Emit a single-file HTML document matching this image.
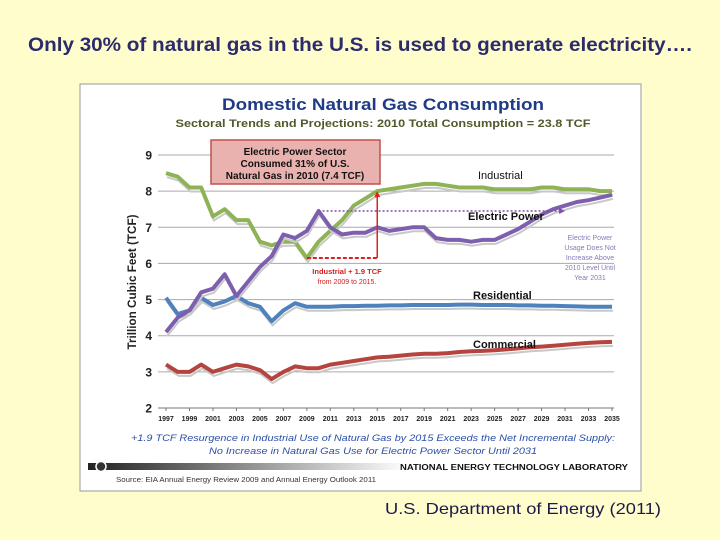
<!DOCTYPE html>
<html><head><meta charset="utf-8"><style>
html,body{margin:0;padding:0;background:#fffdcc;}
svg{display:block;}
text{font-family:"Liberation Sans",sans-serif;}
</style></head><body>
<svg id="slide" width="720" height="540" viewBox="0 0 720 540" xmlns="http://www.w3.org/2000/svg">
<rect width="720" height="540" fill="#fffdcc"/>
<text x="360" y="51" text-anchor="middle" font-size="19" font-weight="bold" fill="#2c2c6c" textLength="664" lengthAdjust="spacingAndGlyphs">Only 30% of natural gas in the U.S. is used to generate electricity….</text>
<rect x="80" y="84" width="561" height="407" fill="#ffffff" stroke="#9a9a9a" stroke-width="1"/>
<text x="383" y="110" text-anchor="middle" font-size="17" font-weight="bold" fill="#1f3b87" textLength="322" lengthAdjust="spacingAndGlyphs">Domestic Natural Gas Consumption</text>
<text x="383" y="127" text-anchor="middle" font-size="11" font-weight="bold" fill="#4f5b2a" textLength="415" lengthAdjust="spacingAndGlyphs">Sectoral Trends and Projections: 2010 Total Consumption = 23.8 TCF</text>
<text transform="translate(136,282) rotate(-90)" text-anchor="middle" font-size="12" font-weight="bold" fill="#222" textLength="135" lengthAdjust="spacingAndGlyphs">Trillion Cubic Feet (TCF)</text>
<g id="grid"></g>
<g id="yticks"></g>
<g id="xticks"></g>
<g id="series"></g>
<g id="annot"></g>
<text x="373" y="441" text-anchor="middle" font-size="9.5" font-style="italic" fill="#2b4fa8" textLength="484" lengthAdjust="spacingAndGlyphs">+1.9 TCF Resurgence in Industrial Use of Natural Gas by 2015 Exceeds the Net Incremental Supply:</text>
<text x="373" y="454" text-anchor="middle" font-size="9.5" font-style="italic" fill="#2b4fa8" textLength="328" lengthAdjust="spacingAndGlyphs">No Increase in Natural Gas Use for Electric Power Sector Until 2031</text>
<defs><linearGradient id="band" x1="0" x2="1"><stop offset="0" stop-color="#222"/><stop offset="1" stop-color="#fff"/></linearGradient></defs>
<rect x="88" y="463" width="320" height="7" fill="url(#band)"/>
<circle cx="101" cy="466.5" r="5" fill="#333" stroke="#fff" stroke-width="1.5"/>
<text x="628" y="470" text-anchor="end" font-size="8" font-weight="bold" fill="#111" textLength="228" lengthAdjust="spacingAndGlyphs">NATIONAL ENERGY TECHNOLOGY LABORATORY</text>
<text x="116" y="482" font-size="7" fill="#333" textLength="260" lengthAdjust="spacingAndGlyphs">Source: EIA Annual Energy Review 2009 and Annual Energy Outlook 2011</text>
<text x="523" y="514" text-anchor="middle" font-size="16" fill="#1a1a4a" textLength="276" lengthAdjust="spacingAndGlyphs">U.S. Department of Energy (2011)</text>
</svg>
<script>
const years = [];for(let y=1997;y<=2035;y++)years.push(y);
const yTicks = [2,3,4,5,6,7,8,9];
const xTickLabels = ["1997","1999","2001","2003","2005","2007","2009","2011","2013","2015","2017","2019","2021","2023","2025","2027","2029","2031","2033","2035"];
const industrial = [8.5,8.4,8.1,8.1,7.3,7.5,7.2,7.2,6.6,6.5,6.6,6.6,6.15,6.6,6.9,7.2,7.6,7.8,8.0,8.05,8.1,8.15,8.2,8.2,8.15,8.1,8.1,8.1,8.05,8.05,8.05,8.05,8.1,8.1,8.05,8.05,8.05,8.0,8.0];
const electric = [4.1,4.5,4.7,5.2,5.3,5.7,5.1,5.5,5.9,6.2,6.8,6.7,6.9,7.45,7.0,6.8,6.85,6.85,7.0,6.9,6.95,7.0,7.0,6.7,6.65,6.65,6.6,6.65,6.65,6.8,6.95,7.15,7.35,7.5,7.6,7.7,7.75,7.82,7.9];
const residential = [5.05,4.6,4.7,5.05,4.85,4.95,5.1,4.9,4.8,4.4,4.7,4.9,4.8,4.8,4.8,4.82,4.82,4.83,4.83,4.84,4.84,4.85,4.85,4.85,4.85,4.86,4.86,4.85,4.85,4.85,4.84,4.84,4.83,4.83,4.82,4.81,4.8,4.8,4.8];
const commercial = [3.2,3.0,3.0,3.2,3.0,3.1,3.2,3.15,3.05,2.8,3.0,3.15,3.1,3.1,3.2,3.25,3.3,3.35,3.4,3.42,3.45,3.48,3.5,3.5,3.52,3.55,3.57,3.58,3.6,3.62,3.65,3.68,3.7,3.72,3.75,3.78,3.8,3.82,3.83];

const NS="http://www.w3.org/2000/svg";
const X0=166,X1=612,Y9=155,Y2=408;
const xs=i=>X0+(X1-X0)*i/(years.length-1);
const xy=yr=>xs(yr-1997);
const ys=v=>Y2-(Y2-Y9)*(v-2)/7;
function mk(tag,attrs,parent){const e=document.createElementNS(NS,tag);for(const k in attrs)e.setAttribute(k,attrs[k]);parent.appendChild(e);return e;}
const grid=document.getElementById('grid'),yt=document.getElementById('yticks'),xt=document.getElementById('xticks'),ser=document.getElementById('series'),an=document.getElementById('annot');
yTicks.forEach(v=>{
  const l=mk('line',{x1:158,x2:614,y1:ys(v),y2:ys(v),stroke:v===2?'#777':'#aaa','stroke-width':1},grid);
  
  
  const t=mk('text',{x:152,y:ys(v)+4.5,'text-anchor':'end','font-size':12,'font-weight':'bold',fill:'#222'},yt);
  t.textContent=v;
  
  
});
xTickLabels.forEach(s=>{
  const x=xy(+s);
  const tk=mk('line',{x1:x,x2:x,y1:408,y2:411,stroke:'#777'},xt);
  
  
  const t=mk('text',{x:x,y:421,'text-anchor':'middle','font-size':7,'font-weight':'bold',fill:'#222'},xt);
  t.textContent=s;
  
  
});
function series(vals,color,name){
  const d=vals.map((v,i)=>(i?'L':'M')+xs(i).toFixed(1)+','+ys(v).toFixed(1)).join(' ');
  const sh=mk('path',{d:d,fill:'none',stroke:'#c8c8c8','stroke-width':2,transform:'translate(1,4)'},ser);
  
  
  const p=mk('path',{d:d,fill:'none',stroke:color,'stroke-width':4,'stroke-linejoin':'round'},ser);
  
  
}
series(commercial,'#b5443f','commercial');
series(residential,'#4f81bd','residential');
series(industrial,'#8db356','industrial');
series(electric,'#7e5fae','electric-power');
function lab(txt,x,y,size,color,name,extra){const t=mk('text',Object.assign({x:x,y:y,'font-size':size,fill:color},extra||{}),an);t.textContent=txt;return t;}
lab('Industrial',478,179,11,'#111','industrial-label');
lab('Electric Power',468,220,11,'#111','electric-power-label',{'font-weight':'bold'});
lab('Residential',473,299,11,'#111','residential-label',{'font-weight':'bold'});
lab('Commercial',473,348,11,'#111','commercial-label',{'font-weight':'bold'});
const peak=electric[13];
const dl=mk('line',{x1:xy(2010),x2:xy(2031)-4,y1:ys(peak),y2:ys(peak),stroke:'#7e4fb0','stroke-width':1.5,'stroke-dasharray':'2,2'},an);


const ah=mk('path',{d:`M${xy(2031)},${ys(peak)} l-6,-3 v6 z`,fill:'#7e4fb0'},an);


const rd=mk('line',{x1:xy(2009),x2:xy(2015),y1:ys(industrial[12]),y2:ys(industrial[12]),stroke:'#e02020','stroke-width':2,'stroke-dasharray':'4,2'},an);


const ra=mk('line',{x1:xy(2015),x2:xy(2015),y1:ys(industrial[12]),y2:ys(industrial[18])+4,stroke:'#e02020','stroke-width':1.5},an);


const rh=mk('path',{d:`M${xy(2015)},${ys(industrial[18])} l-3,6 h6 z`,fill:'#e02020'},an);


lab('Industrial + 1.9 TCF',347,274,7.5,'#d02020','industrial-increase-label',{'text-anchor':'middle','font-weight':'bold'});
lab('from 2009 to 2015.',347,284,7,'#d02020','industrial-increase-sublabel',{'text-anchor':'middle'});
const bx=mk('rect',{x:211,y:140,width:169,height:44,fill:'#eab2ae',stroke:'#c0504d','stroke-width':1.5},an);


lab('Electric Power Sector',295,155,10,'#111','callout-line1',{'text-anchor':'middle','font-weight':'bold'});
lab('Consumed 31% of U.S.',295,167,10,'#111','callout-line2',{'text-anchor':'middle','font-weight':'bold'});
lab('Natural Gas in 2010 (7.4 TCF)',295,179,10,'#111','callout-line3',{'text-anchor':'middle','font-weight':'bold'});
['Electric Power','Usage Does Not','Increase Above','2010 Level Until','Year 2031'].forEach((s,i)=>lab(s,590,240+i*10,7,'#8a78b8','electric-note-line'+(i+1),{'text-anchor':'middle'}));
</script>
</body></html>
